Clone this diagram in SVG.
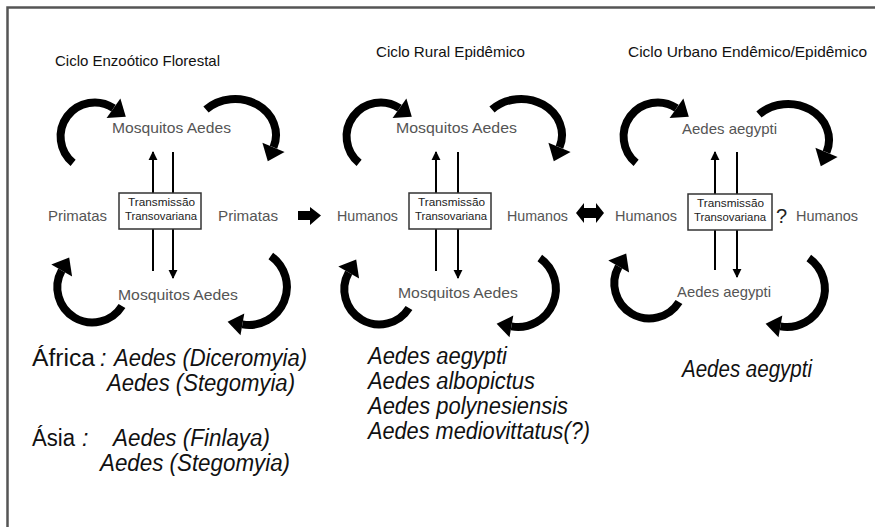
<svg xmlns="http://www.w3.org/2000/svg" xmlns:xlink="http://www.w3.org/1999/xlink" width="875" height="527" viewBox="0 0 875 527">
<style>
text{font-family:"Liberation Sans",Arial,sans-serif}
.title{font-size:15px;fill:#111}
.lbl{font-size:15px;fill:#555}
.bx{font-size:10px;fill:#222}
.sp{font-size:23px;fill:#111;font-style:italic}
.rg{font-size:23px;fill:#111}
.arc{fill:none;stroke:#000;stroke-width:8}
.vl{stroke:#000;stroke-width:2}
.box{fill:#fff;stroke:#333;stroke-width:1.5}
</style>
<defs>
<g id="tl"><path class="arc" d="M73.1 162.8 A34 34 0 0 1 113.5 108.2"/><polygon points="120.4,98.4 106.6,118 125.8,116.8"/></g>
<g id="tr"><path class="arc" d="M206 109.5 A41 36 0 0 1 273.5 147.3"/><polygon points="284.6,151.9 262.4,142.7 267.8,161.2"/></g>
<g id="bl"><path class="arc" d="M122 306 A35 35 0 0 1 61.7 270.5"/><polygon points="51.3,264.5 72.1,276.5 69.2,257.5"/></g>
<g id="br"><path class="arc" d="M270.8 255.9 A38 38 0 0 1 242.4 324.4"/><polygon points="240.5,335.2 244.3,313.6 227.6,321.8"/></g>
<marker id="ah" viewBox="0 0 10 10" refX="9" refY="5" markerWidth="4.5" markerHeight="5" orient="auto" markerUnits="strokeWidth"><path d="M0 0 L10 5 L0 10 z" fill="#000"/></marker>
</defs>
<rect width="875" height="527" fill="#fff"/>
<path d="M7.5 527 V7.5 H875" fill="none" stroke="#555" stroke-width="2.5"/>

<g id="connectors">
<use xlink:href="#tl"/><use xlink:href="#tr"/><use xlink:href="#bl"/><use xlink:href="#br"/>
<use xlink:href="#tl" transform="translate(286,0)"/><use xlink:href="#tr" transform="translate(286,0)"/><use xlink:href="#bl" transform="translate(287,2)"/><use xlink:href="#br" transform="translate(269,2)"/>
<use xlink:href="#tl" transform="translate(563,0)"/><use xlink:href="#tr" transform="translate(553,5)"/><use xlink:href="#bl" transform="translate(557,-4)"/><use xlink:href="#br" transform="translate(538,2)"/>
<line class="vl" x1="153" y1="271" x2="153" y2="152" marker-end="url(#ah)"/>
<line class="vl" x1="173" y1="152" x2="173" y2="278" marker-end="url(#ah)"/>
<line class="vl" x1="436" y1="271" x2="436" y2="152" marker-end="url(#ah)"/>
<line class="vl" x1="458" y1="152" x2="458" y2="278" marker-end="url(#ah)"/>
<line class="vl" x1="715" y1="270" x2="715" y2="152" marker-end="url(#ah)"/>
<line class="vl" x1="737" y1="152" x2="737" y2="277" marker-end="url(#ah)"/>
<polygon points="298,211 310,211 310,207 321,215.5 310,225 310,220 298,220"/>
<polygon points="576,213 584,203 584,208 596,208 596,203 604,213 596,223 596,218 584,218 584,223"/>
</g>

<g id="panel1">
<text class="title" x="55" y="66" textLength="165" lengthAdjust="spacingAndGlyphs">Ciclo Enzoótico Florestal</text>
<g id="p1-top"><text class="lbl" x="112" y="133" textLength="119" lengthAdjust="spacingAndGlyphs">Mosquitos Aedes</text></g>
<g id="p1-bottom"><text class="lbl" x="118" y="300" textLength="120" lengthAdjust="spacingAndGlyphs">Mosquitos Aedes</text></g>
<g id="p1-left"><text class="lbl" x="48" y="221" textLength="59" lengthAdjust="spacingAndGlyphs">Primatas</text></g>
<g id="p1-right"><text class="lbl" x="218" y="221" textLength="60" lengthAdjust="spacingAndGlyphs">Primatas</text></g>
<g id="p1-box"><rect class="box" x="119" y="193" width="82" height="36"/>
<text class="bx" x="161.5" y="206" text-anchor="middle" textLength="67" lengthAdjust="spacingAndGlyphs">Transmissão</text>
<text class="bx" x="161" y="220" text-anchor="middle" textLength="72" lengthAdjust="spacingAndGlyphs">Transovariana</text></g>
</g>

<g id="panel2">
<text class="title" x="376" y="57" textLength="149" lengthAdjust="spacingAndGlyphs">Ciclo Rural Epidêmico</text>
<g id="p2-top"><text class="lbl" x="396" y="133" textLength="121" lengthAdjust="spacingAndGlyphs">Mosquitos Aedes</text></g>
<g id="p2-bottom"><text class="lbl" x="398" y="298" textLength="120" lengthAdjust="spacingAndGlyphs">Mosquitos Aedes</text></g>
<g id="p2-left"><text class="lbl" x="337" y="221" textLength="61" lengthAdjust="spacingAndGlyphs">Humanos</text></g>
<g id="p2-right"><text class="lbl" x="507" y="221" textLength="61" lengthAdjust="spacingAndGlyphs">Humanos</text></g>
<g id="p2-box"><rect class="box" x="409" y="193" width="82" height="36"/>
<text class="bx" x="451.5" y="206" text-anchor="middle" textLength="67" lengthAdjust="spacingAndGlyphs">Transmissão</text>
<text class="bx" x="451" y="220" text-anchor="middle" textLength="72" lengthAdjust="spacingAndGlyphs">Transovariana</text></g>
</g>

<g id="panel3">
<text class="title" x="628" y="57" textLength="239" lengthAdjust="spacingAndGlyphs">Ciclo Urbano Endêmico/Epidêmico</text>
<g id="p3-top"><text class="lbl" x="682" y="134" textLength="95" lengthAdjust="spacingAndGlyphs">Aedes aegypti</text></g>
<g id="p3-bottom"><text class="lbl" x="677" y="297" textLength="94" lengthAdjust="spacingAndGlyphs">Aedes aegypti</text></g>
<g id="p3-left"><text class="lbl" x="615" y="221" textLength="62" lengthAdjust="spacingAndGlyphs">Humanos</text></g>
<g id="p3-right"><text class="lbl" x="796" y="221" textLength="62" lengthAdjust="spacingAndGlyphs">Humanos</text></g>
<text x="776" y="223" style="font-size:20px;fill:#222">?</text>
<g id="p3-box"><rect class="box" x="688" y="194" width="84" height="36"/>
<text class="bx" x="730.5" y="207" text-anchor="middle" textLength="67" lengthAdjust="spacingAndGlyphs">Transmissão</text>
<text class="bx" x="730" y="221" text-anchor="middle" textLength="72" lengthAdjust="spacingAndGlyphs">Transovariana</text></g>
</g>

<g id="species">
<text class="rg" x="32" y="366" textLength="63" lengthAdjust="spacingAndGlyphs">África</text>
<text class="sp" x="100" y="366">:</text>
<text class="sp" x="114" y="366" textLength="193" lengthAdjust="spacingAndGlyphs">Aedes (Diceromyia)</text>
<text class="sp" x="107" y="391" textLength="188" lengthAdjust="spacingAndGlyphs">Aedes (Stegomyia)</text>
<text class="rg" x="32" y="446" textLength="43" lengthAdjust="spacingAndGlyphs">Ásia</text>
<text class="sp" x="82" y="446">:</text>
<text class="sp" x="113" y="446" textLength="157" lengthAdjust="spacingAndGlyphs">Aedes (Finlaya)</text>
<text class="sp" x="100" y="471" textLength="190" lengthAdjust="spacingAndGlyphs">Aedes (Stegomyia)</text>
<text class="sp" x="368" y="364" textLength="139" lengthAdjust="spacingAndGlyphs">Aedes aegypti</text>
<text class="sp" x="368" y="389" textLength="167" lengthAdjust="spacingAndGlyphs">Aedes albopictus</text>
<text class="sp" x="368" y="414" textLength="200" lengthAdjust="spacingAndGlyphs">Aedes polynesiensis</text>
<text class="sp" x="368" y="439" textLength="222" lengthAdjust="spacingAndGlyphs">Aedes mediovittatus(?)</text>
<text class="sp" x="682" y="377" textLength="130" lengthAdjust="spacingAndGlyphs">Aedes aegypti</text>
</g>
</svg>
